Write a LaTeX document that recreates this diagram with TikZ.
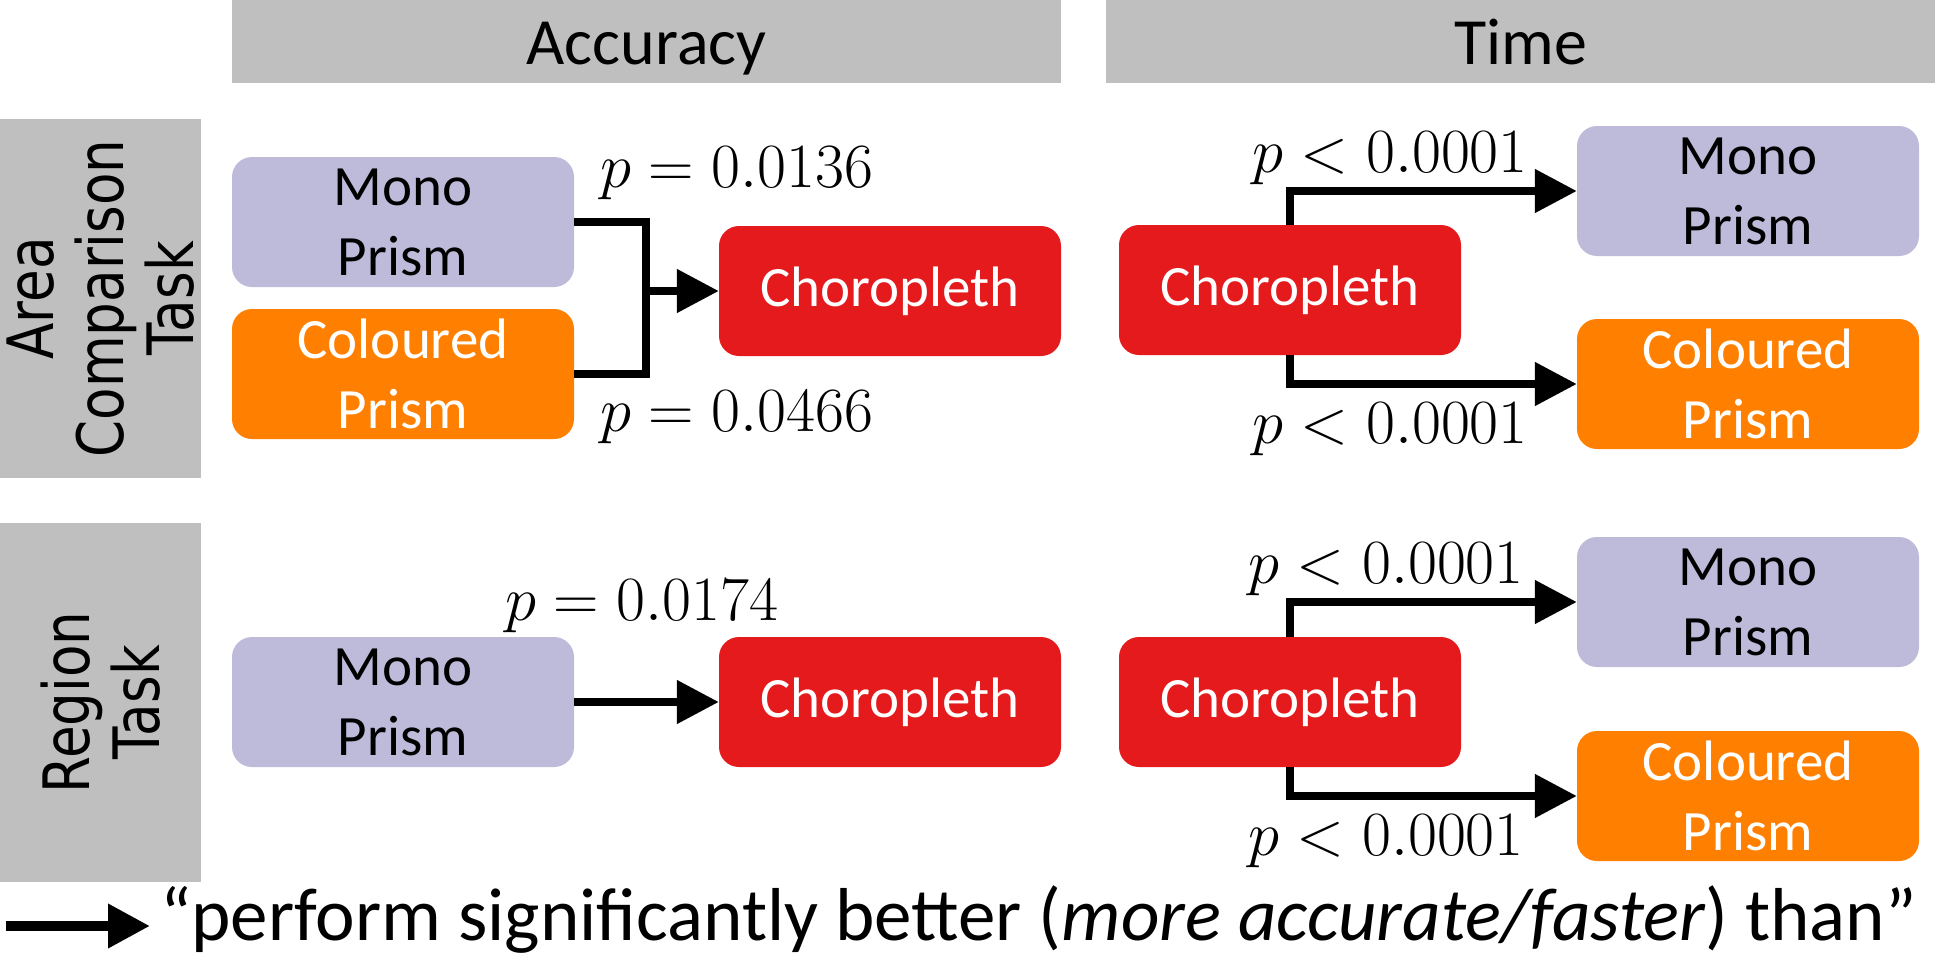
\RequirePackage{fix-cm}
\documentclass[tikz,border=0pt]{standalone}
\usepackage{fontspec}
\setmainfont{Carlito}
\newfontfamily\sidefont[FakeStretch=0.83]{DejaVu Sans}
\usetikzlibrary{arrows.meta,calc,positioning}
\definecolor{prismlav}{HTML}{BEBADA}
\definecolor{prismorange}{HTML}{FF7F00}
\definecolor{chorored}{HTML}{E41A1C}
\definecolor{bargrey}{HTML}{BFBFBF}
\newcommand{\SHead}{\fontsize{66}{70}\selectfont}
\newcommand{\SBox}{\fontsize{57}{70}\selectfont}
\newcommand{\SMath}{\fontsize{63}{70}\selectfont}
\newcommand{\SSide}{\fontsize{64}{70}\selectfont\sidefont}
\newcommand{\SKey}{\fontsize{75}{80}\selectfont}

\begin{document}
\begin{tikzpicture}[x=1pt, y=-1pt,
  header/.style={fill=bargrey, minimum width=829pt, minimum height=83pt,
                 inner sep=0pt, text height=45pt, text depth=0pt, font=\SHead},
  sidebar/.style={fill=bargrey, rotate=90, minimum width=359pt,
                  minimum height=201pt, inner sep=0pt, align=center, font=\SSide},
  taskbox/.style={rounded corners=20pt, minimum width=342pt,
                  minimum height=130pt, inner sep=0pt, align=center, font=\SBox},
  monobox/.style={taskbox, fill=prismlav},
  colbox/.style={taskbox, fill=prismorange, text=white},
  chorobox/.style={taskbox, fill=chorored, text=white},
  bracket/.style={line width=8pt},
  sigarrow/.style={-{Triangle[length=42pt,width=42pt]}, line width=8pt},
  pval/.style={anchor=base west, inner sep=0pt, font=\SMath}
]
\useasboundingbox (0,0) rectangle (1935,958);

% Column and row headings.
\node[header] (acchead) at (646.5,41.5) {Accuracy};
\node[header] (timehead) at (1520.5,41.5) {Time};
\node[sidebar] (areabar) at (100.5,298.5) {Area\\Comparison\\Task};
\node[sidebar] (regbar) at (100.5,702.5) {Region\\Task};

% Area comparison, accuracy.
\node[monobox] (monoA) at (403,222) {Mono\\Prism};
\node[colbox] (colA) at (403,374) {Coloured\\Prism};
\node[chorobox] (choroA) at (890,291) {Choropleth};
\coordinate (joinA) at ($(monoA.east)+(72,0)$);
\draw[bracket] (monoA.east) -- (joinA) |- (colA.east);
\draw[sigarrow] (joinA |- choroA.west) -- (choroA.west);
\node[pval] (pmonoA) at (600,187) {$p = 0.0136$};
\node[pval] (pcolA) at (600,431) {$p = 0.0466$};

% Area comparison, time.
\node[chorobox] (choroT) at (1290,290) {Choropleth};
\node[monobox] (monoT) at (1748,191) {Mono\\Prism};
\node[colbox] (colT) at (1748,384) {Coloured\\Prism};
\draw[sigarrow] (choroT.north) |- (monoT.west);
\draw[sigarrow] (choroT.south) |- (colT.west);
\node[pval] (pmonoT) at (1252,172) {$p < 0.0001$};
\node[pval] (pcolT) at (1252,443) {$p < 0.0001$};

% Region task, accuracy.
\node[monobox] (monoR) at (403,702) {Mono\\Prism};
\node[chorobox] (choroR) at (890,702) {Choropleth};
\draw[sigarrow] (monoR) -- (choroR);
\node[pval] (pmonoR) at (505,620) {$p = 0.0174$};

% Region task, time.
\node[chorobox] (choroRT) at (1290,702) {Choropleth};
\node[monobox] (monoRT) at (1748,602) {Mono\\Prism};
\node[colbox] (colRT) at (1748,796) {Coloured\\Prism};
\draw[sigarrow] (choroRT.north) |- (monoRT.west);
\draw[sigarrow] (choroRT.south) |- (colRT.west);
\node[pval] (pmonoRT) at (1248,583) {$p < 0.0001$};
\node[pval] (pcolRT) at (1248,855) {$p < 0.0001$};

% Key.
\node[anchor=base west, inner sep=0pt, font=\SKey] (keytext) at (160,940)
  {“perform significantly better (\textit{more accurate/faster}) than”};
\coordinate (keytail) at (6,926);
\draw[sigarrow, line width=10pt, shorten >=10pt] (keytail) -- (keytail -| keytext.west);
\end{tikzpicture}
\end{document}
